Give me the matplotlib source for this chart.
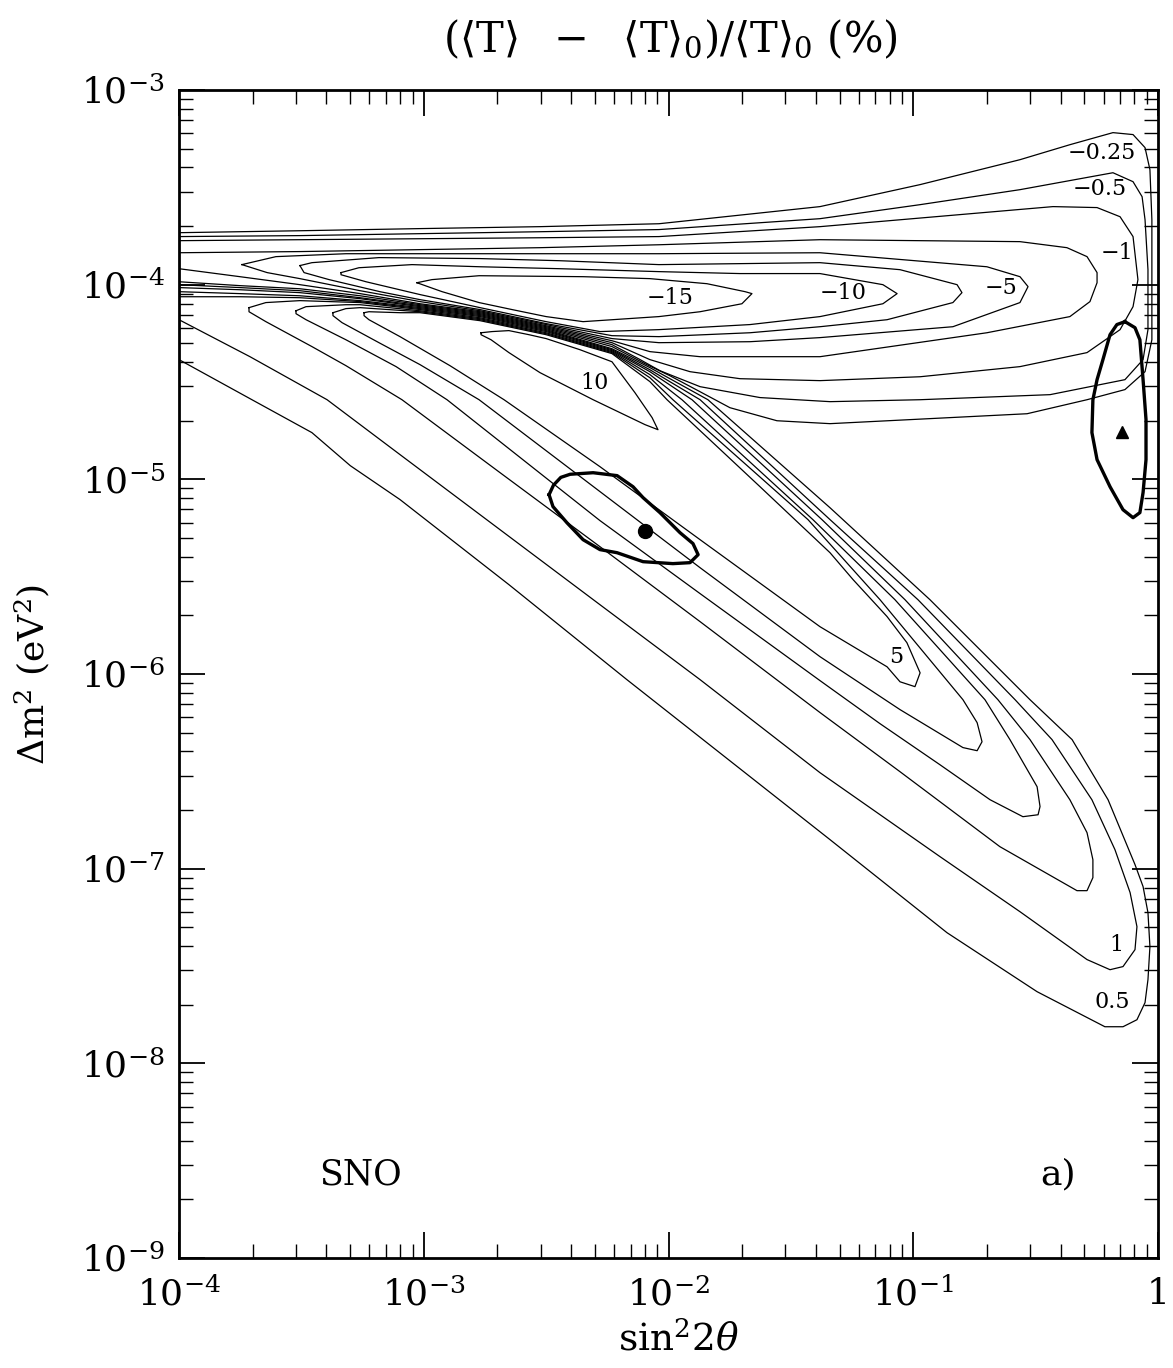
import numpy as np
import matplotlib
matplotlib.use("Agg")
import matplotlib.pyplot as plt
from matplotlib.ticker import FixedLocator, FuncFormatter, NullFormatter, LogLocator

plt.rcParams["font.family"] = ["DejaVu Serif"]
plt.rcParams["mathtext.fontset"] = "dejavuserif"

# iso-lines of (<T> - <T>_0)/<T>_0 in %
# each point is (log10 sin^2 2theta, log10 dm^2 / eV^2)
c_m025 = np.array([(-4.000, -3.733), (-3.506, -3.723), (-3.015, -3.712), (-2.525, -3.702), (-2.039, -3.687),
                   (-1.381, -3.599), (-0.972, -3.486), (-0.564, -3.358), (-0.360, -3.281), (-0.184, -3.219),
                   (-0.102, -3.229), (-0.053, -3.296), (-0.033, -3.409), (-0.025, -3.666), (-0.025, -4.283),
                   (-0.053, -4.447), (-0.135, -4.539), (-0.290, -4.591), (-0.535, -4.663), (-1.340, -4.714),
                   (-1.557, -4.699), (-1.749, -4.632), (-1.871, -4.550), (-1.994, -4.468), (-2.096, -4.406),
                   (-2.231, -4.318), (-2.500, -4.226), (-2.770, -4.154), (-3.015, -4.113), (-3.260, -4.072),
                   (-3.506, -4.041), (-3.751, -4.026), (-4.000, -4.015)])
c_m05 = np.array([(-4.000, -3.753), (-3.506, -3.748), (-3.015, -3.738), (-2.525, -3.728), (-2.039, -3.717),
                  (-1.381, -3.661), (-0.972, -3.589), (-0.564, -3.512), (-0.184, -3.425), (-0.102, -3.471),
                  (-0.065, -3.548), (-0.053, -3.666), (-0.041, -3.923), (-0.041, -4.231), (-0.061, -4.385),
                  (-0.135, -4.488), (-0.441, -4.565), (-0.972, -4.591), (-1.340, -4.601), (-1.626, -4.580),
                  (-1.871, -4.524), (-2.035, -4.442), (-2.116, -4.385), (-2.231, -4.308), (-2.500, -4.221),
                  (-2.770, -4.149), (-3.015, -4.108), (-3.260, -4.067), (-3.506, -4.031), (-3.751, -4.015),
                  (-4.000, -4.000)])
c_m1 = np.array([(-4.000, -3.774), (-3.506, -3.769), (-3.015, -3.764), (-2.525, -3.759), (-2.039, -3.753),
                 (-1.381, -3.702), (-0.429, -3.599), (-0.249, -3.604), (-0.155, -3.651), (-0.102, -3.753),
                 (-0.082, -3.974), (-0.102, -4.113), (-0.155, -4.231), (-0.290, -4.349), (-0.564, -4.421),
                 (-0.972, -4.473), (-1.381, -4.493), (-1.708, -4.483), (-1.912, -4.447), (-2.076, -4.385),
                 (-2.231, -4.298), (-2.500, -4.216), (-2.770, -4.144), (-3.015, -4.103), (-3.260, -4.057),
                 (-3.506, -4.021), (-3.751, -4.005), (-4.000, -3.985)])
c_m25 = np.array([(-4.000, -3.836), (-3.506, -3.830), (-3.015, -3.820), (-2.525, -3.810), (-2.039, -3.795),
                  (-1.381, -3.769), (-0.564, -3.779), (-0.372, -3.810), (-0.290, -3.856), (-0.249, -3.938),
                  (-0.249, -3.990), (-0.278, -4.087), (-0.360, -4.164), (-0.699, -4.247), (-1.381, -4.370),
                  (-1.871, -4.370), (-2.076, -4.344), (-2.231, -4.288), (-2.500, -4.211), (-2.770, -4.139),
                  (-3.015, -4.098), (-3.260, -4.046), (-3.506, -4.000), (-3.751, -3.959), (-4.000, -3.918)])
c_m5 = np.array([(-3.743, -3.897), (-3.604, -3.856), (-3.318, -3.841), (-3.015, -3.841), (-2.525, -3.841),
                 (-2.039, -3.841), (-1.381, -3.836), (-0.699, -3.908), (-0.564, -3.959), (-0.531, -4.010),
                 (-0.564, -4.092), (-0.838, -4.216), (-1.381, -4.272), (-1.667, -4.293), (-2.039, -4.298),
                 (-2.231, -4.277), (-2.500, -4.205), (-2.770, -4.134), (-3.015, -4.087), (-3.260, -4.031),
                 (-3.506, -3.969), (-3.640, -3.938), (-3.743, -3.897)])
c_m75 = np.array([(-3.506, -3.902), (-3.457, -3.887), (-3.183, -3.861), (-2.770, -3.866), (-2.443, -3.877),
                  (-2.039, -3.897), (-1.381, -3.887), (-1.054, -3.923), (-0.821, -4.000), (-0.801, -4.041),
                  (-0.838, -4.092), (-1.107, -4.180), (-1.381, -4.216), (-1.667, -4.247), (-2.039, -4.267),
                  (-2.231, -4.262), (-2.500, -4.200), (-2.770, -4.128), (-3.015, -4.077), (-3.179, -4.036),
                  (-3.387, -3.974), (-3.489, -3.938), (-3.506, -3.902)])
c_m10 = np.array([(-3.338, -3.938), (-3.265, -3.913), (-3.048, -3.897), (-2.770, -3.908), (-2.443, -3.918),
                  (-2.039, -3.933), (-1.708, -3.943), (-1.381, -3.943), (-1.124, -4.000), (-1.066, -4.046),
                  (-1.124, -4.098), (-1.381, -4.164), (-1.667, -4.205), (-2.039, -4.231), (-2.280, -4.241),
                  (-2.500, -4.190), (-2.770, -4.118), (-3.015, -4.051), (-3.236, -3.985), (-3.338, -3.949),
                  (-3.338, -3.938)])
c_m15 = np.array([(-3.028, -3.990), (-2.966, -3.974), (-2.774, -3.954), (-2.349, -3.959), (-2.076, -3.969),
                  (-1.843, -3.995), (-1.687, -4.036), (-1.659, -4.046), (-1.700, -4.098), (-1.871, -4.139),
                  (-2.039, -4.164), (-2.349, -4.190), (-2.500, -4.164), (-2.639, -4.128), (-2.774, -4.092),
                  (-2.925, -4.036), (-3.028, -3.990)])
c_p05 = np.array([(-4.000, -4.036), (-3.751, -4.046), (-3.506, -4.057), (-3.260, -4.082), (-3.015, -4.118),
                  (-2.770, -4.159), (-2.500, -4.231), (-2.231, -4.329), (-2.076, -4.426), (-1.839, -4.591),
                  (-1.340, -5.146), (-0.932, -5.618), (-0.523, -6.132), (-0.351, -6.337), (-0.204, -6.646),
                  (-0.094, -6.979), (-0.061, -7.092), (-0.041, -7.226), (-0.033, -7.401), (-0.041, -7.570),
                  (-0.053, -7.688), (-0.086, -7.776), (-0.143, -7.812), (-0.217, -7.812), (-0.494, -7.632),
                  (-0.862, -7.329), (-1.340, -6.851), (-2.170, -6.029), (-2.652, -5.541), (-3.097, -5.104),
                  (-3.300, -4.930), (-3.457, -4.760), (-3.702, -4.591), (-4.000, -4.385)])
c_p1 = np.array([(-4.000, -4.062), (-3.751, -4.062), (-3.506, -4.067), (-3.260, -4.087), (-3.015, -4.123),
                 (-2.770, -4.164), (-2.500, -4.236), (-2.231, -4.334), (-2.076, -4.437), (-1.871, -4.591),
                 (-1.340, -5.207), (-0.981, -5.618), (-0.584, -6.132), (-0.433, -6.337), (-0.270, -6.646),
                 (-0.176, -6.902), (-0.114, -7.123), (-0.086, -7.298), (-0.094, -7.416), (-0.143, -7.503),
                 (-0.196, -7.519), (-0.290, -7.467), (-0.564, -7.221), (-0.891, -6.938), (-1.381, -6.507),
                 (-1.871, -6.029), (-2.280, -5.644), (-2.688, -5.259), (-3.097, -4.873), (-3.395, -4.591),
                 (-3.710, -4.370), (-4.000, -4.180)])
c_p2 = np.array([(-3.714, -4.118), (-3.645, -4.092), (-3.506, -4.082), (-3.260, -4.092), (-3.015, -4.128),
                 (-2.770, -4.170), (-2.500, -4.241), (-2.231, -4.339), (-2.076, -4.447), (-1.904, -4.591),
                 (-1.373, -5.207), (-1.034, -5.618), (-0.654, -6.132), (-0.523, -6.337), (-0.360, -6.646),
                 (-0.290, -6.815), (-0.266, -6.954), (-0.266, -7.046), (-0.290, -7.113), (-0.331, -7.113),
                 (-0.646, -6.887), (-1.054, -6.502), (-1.381, -6.198), (-1.871, -5.731), (-2.280, -5.346),
                 (-2.688, -4.966), (-3.089, -4.591), (-3.318, -4.416), (-3.457, -4.318), (-3.645, -4.190),
                 (-3.714, -4.139), (-3.714, -4.118)])
c_p3 = np.array([(-3.522, -4.134), (-3.481, -4.113), (-3.318, -4.103), (-3.260, -4.103), (-3.015, -4.134),
                 (-2.770, -4.175), (-2.500, -4.247), (-2.231, -4.344), (-2.076, -4.462), (-1.945, -4.591),
                 (-1.410, -5.207), (-1.075, -5.618), (-0.707, -6.132), (-0.605, -6.337), (-0.494, -6.579),
                 (-0.482, -6.681), (-0.490, -6.723), (-0.552, -6.733), (-0.686, -6.646), (-0.891, -6.466),
                 (-1.136, -6.255), (-1.381, -6.034), (-1.871, -5.587), (-2.280, -5.212), (-2.905, -4.591),
                 (-3.113, -4.421), (-3.318, -4.283), (-3.481, -4.180), (-3.522, -4.149), (-3.522, -4.134)])
c_p4 = np.array([(-3.371, -4.144), (-3.318, -4.123), (-3.260, -4.118), (-3.015, -4.139), (-2.770, -4.180),
                 (-2.500, -4.252), (-2.231, -4.349), (-2.076, -4.478), (-1.982, -4.591), (-1.430, -5.207),
                 (-1.136, -5.618), (-0.797, -6.132), (-0.739, -6.250), (-0.719, -6.348), (-0.739, -6.394),
                 (-0.797, -6.378), (-1.054, -6.183), (-1.381, -5.911), (-1.871, -5.454), (-2.280, -5.063),
                 (-2.774, -4.591), (-3.015, -4.411), (-3.183, -4.298), (-3.334, -4.195), (-3.371, -4.159),
                 (-3.371, -4.144)])
c_p5 = np.array([(-3.244, -4.144), (-3.224, -4.139), (-3.097, -4.144), (-3.015, -4.144), (-2.770, -4.185),
                 (-2.500, -4.257), (-2.231, -4.354), (-2.076, -4.498), (-2.006, -4.591), (-1.626, -5.038),
                 (-1.340, -5.377), (-1.246, -5.515), (-1.107, -5.705), (-1.026, -5.839), (-0.972, -5.994),
                 (-0.993, -6.065), (-1.054, -6.040), (-1.107, -5.963), (-1.381, -5.757), (-1.871, -5.310),
                 (-2.280, -4.935), (-2.672, -4.591), (-2.893, -4.416), (-3.097, -4.267), (-3.224, -4.180),
                 (-3.244, -4.159), (-3.244, -4.144)])
c_p10 = np.array([(-2.766, -4.247), (-2.721, -4.241), (-2.652, -4.236), (-2.570, -4.257), (-2.500, -4.277),
                  (-2.362, -4.334), (-2.231, -4.396), (-2.137, -4.555), (-2.067, -4.683), (-2.043, -4.745),
                  (-2.096, -4.719), (-2.308, -4.591), (-2.525, -4.452), (-2.652, -4.349), (-2.725, -4.283),
                  (-2.766, -4.257), (-2.766, -4.247)])

# allowed regions (thick lines) and best fit points
fit_sma = np.array([(-2.488, -5.079), (-2.470, -5.030), (-2.440, -4.990), (-2.402, -4.974), (-2.308, -4.966),
                    (-2.210, -4.981), (-2.145, -5.038), (-2.104, -5.094), (-2.035, -5.171), (-1.953, -5.274),
                    (-1.900, -5.330), (-1.879, -5.387), (-1.912, -5.428), (-1.982, -5.433), (-2.104, -5.423),
                    (-2.210, -5.377), (-2.280, -5.361), (-2.349, -5.310), (-2.415, -5.223), (-2.472, -5.140),
                    (-2.488, -5.079)])
fit_lma = np.array([(-0.135, -4.190), (-0.094, -4.221), (-0.074, -4.283), (-0.061, -4.488), (-0.049, -4.693),
                    (-0.049, -4.899), (-0.061, -5.068), (-0.074, -5.171), (-0.102, -5.197), (-0.143, -5.156),
                    (-0.196, -5.038), (-0.249, -4.899), (-0.270, -4.760), (-0.266, -4.591), (-0.249, -4.488),
                    (-0.225, -4.385), (-0.196, -4.257), (-0.168, -4.205), (-0.135, -4.190)])
best_sma = (-2.096, -5.266)
best_lma = (-0.147, -4.755)

level_labels = ["\u22120.25", "\u22120.5", "\u22121", "\u22125", "\u221210", "\u221215", "10", "5", "1", "0.5"]
label_lx = [-0.229, -0.237, -0.168, -0.641, -1.287, -1.994, -2.304, -1.070, -0.172, -0.188]
label_ly = [-3.322, -3.507, -3.836, -4.015, -4.041, -4.067, -4.503, -5.911, -7.390, -7.683]

thin_lines = [c_m025, c_m05, c_m1, c_m25, c_m5, c_m75, c_m10, c_m15,
              c_p05, c_p1, c_p2, c_p3, c_p4, c_p5, c_p10]

fig = plt.figure(figsize=(11.73, 13.68), dpi=100)
ax = fig.add_axes([179 / 1173, 110 / 1368, 979 / 1173, 1168 / 1368])
ax.set_xscale("log")
ax.set_yscale("log")

for c in thin_lines:
    ax.plot(10 ** c[:, 0], 10 ** c[:, 1], color="black", lw=0.9)

for c in (fit_sma, fit_lma):
    ax.plot(10 ** c[:, 0], 10 ** c[:, 1], color="black", lw=2.4)

ax.plot(10 ** best_sma[0], 10 ** best_sma[1], "o", color="black", ms=10)
ax.plot(10 ** best_lma[0], 10 ** best_lma[1], "^", color="black", ms=8)

for txt, lx, ly in zip(level_labels, label_lx, label_ly):
    ax.text(10 ** lx, 10 ** ly, txt, fontsize=16, ha="center", va="center")

ax.text(10 ** -3.26, 10 ** -8.572, "SNO", fontsize=25, ha="center", va="center")
ax.text(10 ** -0.409, 10 ** -8.572, "a)", fontsize=26, ha="center", va="center")

ax.set_xlim(1e-4, 1)
ax.set_ylim(1e-9, 1e-3)


def log_fmt(v, pos):
    e = int(round(np.log10(v)))
    return "1" if e == 0 else r"$10^{%d}$" % e


ax.xaxis.set_major_locator(FixedLocator([1e-4, 1e-3, 1e-2, 1e-1, 1]))
ax.yaxis.set_major_locator(FixedLocator([1e-9, 1e-8, 1e-7, 1e-6, 1e-5, 1e-4, 1e-3]))
ax.xaxis.set_minor_locator(LogLocator(base=10, subs=np.arange(2, 10), numticks=20))
ax.yaxis.set_minor_locator(LogLocator(base=10, subs=np.arange(2, 10), numticks=20))
ax.xaxis.set_major_formatter(FuncFormatter(log_fmt))
ax.yaxis.set_major_formatter(FuncFormatter(log_fmt))
ax.xaxis.set_minor_formatter(NullFormatter())
ax.yaxis.set_minor_formatter(NullFormatter())

ax.tick_params(which="both", direction="in", top=True, right=True, labelsize=26)
ax.tick_params(which="major", length=19, width=1.3)
ax.tick_params(which="minor", length=10, width=1.0)
ax.tick_params(axis="x", which="major", pad=14)
ax.tick_params(axis="y", which="major", pad=10)
for s in ax.spines.values():
    s.set_linewidth(2.0)

ax.text(0.51, -0.07, r"sin$^2$2$\theta$", transform=ax.transAxes, fontsize=27, ha="center", va="center")
ax.text(-0.15, 0.5, r"$\Delta$m$^2$ (eV$^2$)", transform=ax.transAxes, fontsize=26,
        ha="center", va="center", rotation=90)
fig.text(670 / 1173, 1 - 40 / 1368,
         r"$(\langle\mathrm{T}\rangle\ \ -\ \ \langle\mathrm{T}\rangle_0)/\langle\mathrm{T}\rangle_0$ (%)",
         fontsize=30, ha="center", va="center")

fig.savefig("out.png", dpi=100)
